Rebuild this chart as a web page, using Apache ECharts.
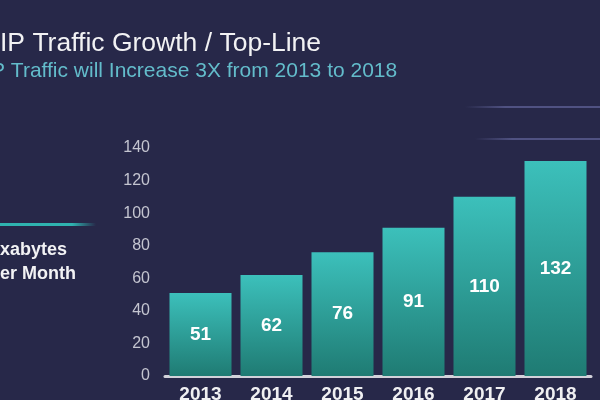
<!DOCTYPE html>
<html>
<head>
<meta charset="utf-8">
<script src="https://cdn.jsdelivr.net/npm/echarts@6/dist/echarts.min.js"></script>
<style>
html,body{margin:0;padding:0;background:#272849;}
#c{width:600px;height:400px;}
</style>
</head>
<body>
<div id="c"></div>
<script>
const categories = ['2013', '2014', '2015', '2016', '2017', '2018'];
const trafficValues = [51, 62, 76, 91, 110, 132];
const yTicks = [0, 20, 40, 60, 80, 100, 120, 140];
const titleText = 'IP Traffic Growth / Top-Line';
const subtitleText = 'P Traffic will Increase 3X from 2013 to 2018';
const unitLines = ['xabytes', 'er Month'];

const FONT = '"Liberation Sans", Arial, sans-serif';
const chart = echarts.init(document.getElementById('c'));
chart.setOption({
  backgroundColor: '#272849',
  animation: false,
  graphic: [
    { type: 'text', left: 0, top: 30, style: { text: titleText, fill: '#f2f2f4', font: '26.5px ' + FONT } },
    { type: 'text', left: -9, top: 61, style: { text: subtitleText, fill: '#63bccb', font: '21px ' + FONT } },
    { type: 'rect', shape: { x: 0, y: 223, width: 96, height: 3 },
      style: { fill: new echarts.graphic.LinearGradient(0, 0, 1, 0, [
        { offset: 0, color: '#2fb3b0' }, { offset: 0.75, color: '#2fb3b0' }, { offset: 1, color: 'rgba(47,179,176,0)' }]) } },
    { type: 'text', left: 0, top: 241, style: { text: unitLines[0], fill: '#f2f2f4', font: 'bold 18px ' + FONT } },
    { type: 'text', left: 0, top: 265, style: { text: unitLines[1], fill: '#f2f2f4', font: 'bold 18px ' + FONT } },
    { type: 'rect', shape: { x: 465, y: 106, width: 135, height: 2 },
      style: { fill: new echarts.graphic.LinearGradient(0, 0, 1, 0, [
        { offset: 0, color: 'rgba(80,82,130,0)' }, { offset: 0.3, color: 'rgba(80,82,130,1)' }, { offset: 1, color: 'rgba(80,82,130,1)' }]) } },
    { type: 'rect', shape: { x: 475, y: 138, width: 125, height: 2 },
      style: { fill: new echarts.graphic.LinearGradient(0, 0, 1, 0, [
        { offset: 0, color: 'rgba(80,82,130,0)' }, { offset: 0.3, color: 'rgba(80,82,130,1)' }, { offset: 1, color: 'rgba(80,82,130,1)' }]) } }
  ],
  grid: { left: 165, right: 9, top: 148, bottom: 24, containLabel: false, outerBoundsMode: 'none' },
  xAxis: {
    type: 'category',
    data: categories,
    axisLine: { lineStyle: { color: '#d2d2da', width: 3 } },
    axisTick: { show: false },
    axisLabel: { color: '#f0f0f2', fontSize: 19, fontWeight: 'bold', fontFamily: FONT, margin: 9 }
  },
  yAxis: {
    type: 'value',
    min: yTicks[0],
    max: yTicks[yTicks.length - 1],
    interval: yTicks[1] - yTicks[0],
    axisLine: { show: false },
    axisTick: { show: false },
    splitLine: { show: false },
    axisLabel: { color: '#c4c5d0', fontSize: 16, fontFamily: FONT, margin: 15 }
  },
  series: [{
    type: 'bar',
    data: trafficValues,
    barWidth: 62,
    itemStyle: {
      color: new echarts.graphic.LinearGradient(0, 0, 0, 1, [
        { offset: 0, color: '#3cc0bb' }, { offset: 1, color: '#1f7b73' }])
    },
    label: { show: true, position: 'inside', color: '#ffffff', fontSize: 19, fontWeight: 'bold', fontFamily: FONT }
  }]
});
</script>
</body>
</html>
